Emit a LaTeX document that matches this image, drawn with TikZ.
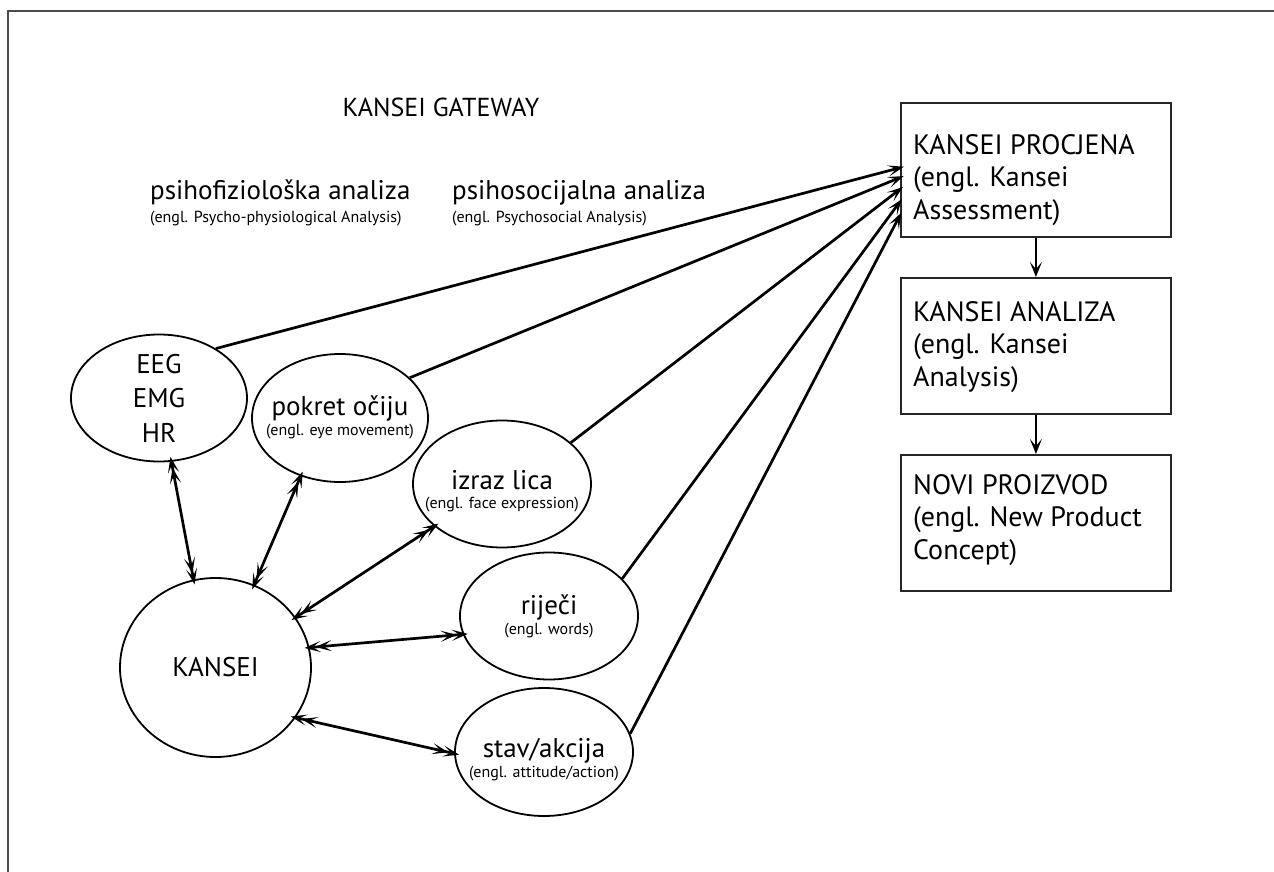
\documentclass[tikz,border=0pt]{standalone}
\usepackage{fontspec}
\setmainfont{PT Sans}
\usetikzlibrary{arrows.meta,shapes.geometric}
\begin{document}
\begin{tikzpicture}[x=1pt,y=-1pt,
  >={Stealth[length=16pt,width=11pt,inset=8pt,sep=-5pt]},
  oval/.style={draw, ellipse, line width=1.8pt, inner sep=0pt},
  box/.style={draw=black!85, line width=1.8pt, rectangle, inner sep=0pt, anchor=north west, minimum width=270pt},
  big/.style={font=\fontsize{27}{33}\selectfont, inner sep=0pt},
  hdr/.style={font=\fontsize{26}{32}\selectfont, inner sep=0pt},
  small/.style={font=\fontsize{16}{19}\selectfont, inner sep=0pt},
  boxtext/.style={font=\fontsize{28}{32.5}\selectfont, inner sep=0pt, anchor=base west},
  conn/.style={line width=2.7pt},
  vconn/.style={line width=2.4pt, -{Stealth[length=15pt,width=12pt,inset=7pt]}},
  frame/.style={line width=1.6pt, black!70}
]
\useasboundingbox (0,0) rectangle (1274,872);
\fill[white] (0,0) rectangle (1274,872);
\draw[frame] (8,872) -- (8,11) -- (1274,11);

% headings
\node[hdr, anchor=base] (gw) at (441,117) {KANSEI GATEWAY};
\node[big, anchor=base west] (pf) at (150,199) {psihofiziološka analiza};
\node[small, anchor=base west] (pfe) at (150,222) {(engl. Psycho-physiological Analysis)};
\node[big, anchor=base west] (ps) at (452,199) {psihosocijalna analiza};
\node[small, anchor=base west] (pse) at (452,222) {(engl. Psychosocial Analysis)};

% ellipses
\node[oval, minimum width=176pt, minimum height=127pt] (eeg) at (159,398) {};
\node[oval, minimum width=176pt, minimum height=128pt] (pokret) at (340,418) {};
\node[oval, minimum width=178pt, minimum height=127pt] (izraz) at (502,484) {};
\node[oval, minimum width=178pt, minimum height=127pt] (rijeci) at (549,616) {};
\node[oval, minimum width=178pt, minimum height=128pt] (stav) at (544,752) {};
\node[oval, minimum width=191pt, minimum height=179pt] (kansei) at (215.5,667.5) {};

\node[font=\fontsize{27}{34.5}\selectfont, align=center] (eegt) at (eeg) {EEG\\EMG\\HR};
\node[big, anchor=base] (pokt) at (340,415) {pokret očiju};
\node[small, anchor=base] (poke) at (340,435) {(engl. eye movement)};
\node[big, anchor=base] (izt) at (502,489) {izraz lica};
\node[small, anchor=base] (ize) at (502,508) {(engl. face expression)};
\node[big, anchor=base] (rit) at (549,614) {riječi};
\node[small, anchor=base] (rie) at (549,634) {(engl. words)};
\node[big, anchor=base] (stt) at (544,757) {stav/akcija};
\node[small, anchor=base] (ste) at (544,777) {(engl. attitude/action)};
\node[big, anchor=base] (kat) at (215.5,676.5) {KANSEI};

% boxes
\node[box, minimum height=134pt] (b1) at (900,102) {};
\node[box, minimum height=136pt] (b2) at (900,277) {};
\node[box, minimum height=136pt] (b3) at (900,454) {};
\node[boxtext] (b1t) at (913,154) {\begin{tabular}[t]{@{}l@{}}KANSEI PROCJENA\\(engl. Kansei\\Assessment)\end{tabular}};
\node[boxtext] (b2t) at (913,321) {\begin{tabular}[t]{@{}l@{}}KANSEI ANALIZA\\(engl. Kansei\\Analysis)\end{tabular}};
\node[boxtext] (b3t) at (913,494) {\begin{tabular}[t]{@{}l@{}}NOVI PROIZVOD\\(engl. New Product\\Concept)\end{tabular}};

% arrow ends on box 1
\coordinate (t1) at (899,168);
\coordinate (t2) at (899,178);
\coordinate (t3) at (899,190);
\coordinate (t4) at (899,203);
\coordinate (t5) at (899,217);

\draw[conn,->] (eeg.41) -- (t1);
\draw[conn,->] (pokret.30) -- (t2);
\draw[conn,->] (izraz.31) -- (t3);
\draw[conn,->] (rijeci.27) -- (t4);
\draw[conn,->] (stav.12) -- (t5);

\draw[conn,<<->>] (eeg.281) -- (kansei.104);
\draw[conn,<<->>] (pokret.236) -- (kansei.65);
\draw[conn,<<->>] (izraz.212) -- (kansei.32);
\draw[conn,<<->>] (rijeci.192) -- (kansei.12);
\draw[conn,<<->>] (stav.181) -- (kansei.-32);

\draw[vconn] (b1.south) -- (b2.north);
\draw[vconn] (b2.south) -- (b3.north);
\end{tikzpicture}
\end{document}
